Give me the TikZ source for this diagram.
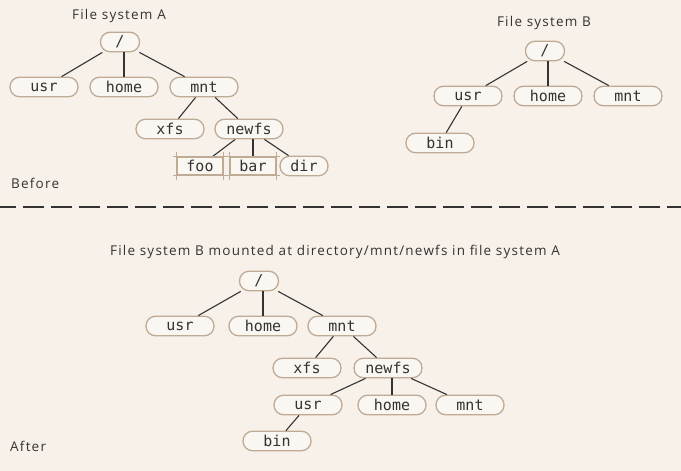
\documentclass[tikz,border=0pt]{standalone}
\usepackage{fontspec}
\setmainfont[LetterSpace=9]{Open Sans}
\newfontfamily\monofont{DejaVu Sans Mono}
\definecolor{bgc}{HTML}{F7F1EA}
\definecolor{nodeb}{HTML}{BFAA94}
\definecolor{nodef}{HTML}{FAF6F1}
\definecolor{inkc}{HTML}{333333}
\tikzset{
  fsnode/.style={draw=nodeb, fill=nodef, line width=1.3pt, rounded corners=9.5pt,
    minimum width=68pt, minimum height=19.5pt, inner sep=0pt,
    font=\monofont\fontsize{15}{16}\selectfont, text=inkc},
  rootnode/.style={fsnode, minimum width=39pt},
  smallnode/.style={fsnode, minimum width=48pt},
  filenode/.style={draw=nodeb, fill=nodef, line width=1.3pt, minimum width=46pt,
    minimum height=18pt, inner sep=0pt,
    font=\monofont\fontsize{15}{16}\selectfont, text=inkc},
  edge/.style={draw=inkc, line width=1.1pt},
  lbl/.style={font=\fontsize{13.5}{15}\selectfont, text=inkc, inner sep=0pt},
}
\begin{document}
\begin{tikzpicture}[x=1pt,y=-1pt]
\fill[bgc] (0,0) rectangle (681,471);
\useasboundingbox (0,0) rectangle (681,471);
% File system A
\node[lbl] (tA) at (119,16) {File system A};
\node[rootnode] (ar) at (120,42) {/};
\node[fsnode] (au) at (44,87) {usr};
\node[fsnode] (ah) at (124,87) {home};
\node[fsnode] (am) at (204,87) {mnt};
\node[fsnode] (ax) at (170,129) {xfs};
\node[fsnode] (an) at (249,129) {newfs};
\node[filenode] (af) at (200,166) {foo};
\node[filenode] (ab) at (253,166) {bar};
\node[smallnode] (ad) at (304,166) {dir};
\foreach \c in {au,am} \draw[edge] (ar) -- (\c);
\draw[edge] (ar.south -| ah) -- (ah.north);
\draw[edge] (am) -- (ax);
\draw[edge] (am) -- (an);
\draw[edge] (an) -- (af);
\draw[edge] (an.south -| ab) -- (ab.north);
\draw[edge] (an) -- (ad);
% sketchy corner extensions on file boxes
\foreach \b in {af,ab} {
  \draw[nodeb, line width=1pt] ([xshift=-3pt]\b.north west) -- ([xshift=3pt]\b.north east);
  \draw[nodeb, line width=1pt] ([xshift=-3pt]\b.south west) -- ([xshift=3pt]\b.south east);
  \draw[nodeb, line width=1pt] ([yshift=4pt]\b.north west) -- ([yshift=-4pt]\b.south west);
  \draw[nodeb, line width=1pt] ([yshift=4pt]\b.north east) -- ([yshift=-4pt]\b.south east);
}
\node[lbl, anchor=west] (before) at (11,183) {Before};
% File system B
\node[lbl] (tB) at (544,23) {File system B};
\node[rootnode] (br) at (545,51) {/};
\node[fsnode] (bu) at (468,96) {usr};
\node[fsnode] (bh) at (548,96) {home};
\node[fsnode] (bm) at (628,96) {mnt};
\node[fsnode] (bb) at (440,143) {bin};
\draw[edge] (br) -- (bu);
\draw[edge] (br.south -| bh) -- (bh.north);
\draw[edge] (br) -- (bm);
\draw[edge] (bu) -- (bb);
% divider
\coordinate (dl) at (0,207);
\coordinate (dr) at (681,207);
\draw[inkc, line width=1.5pt, dash pattern=on 21pt off 7pt, dash phase=5pt] (dl) -- (dr);
% After
\node[lbl] (tC) at (335,252) {File system B mounted at directory/mnt/newfs in file system A};
\node[rootnode] (cr) at (259,281) {/};
\node[fsnode] (cu) at (180,326) {usr};
\node[fsnode] (ch) at (263,326) {home};
\node[fsnode] (cm) at (342,326) {mnt};
\node[fsnode] (cx) at (307,368) {xfs};
\node[fsnode] (cn) at (388,368) {newfs};
\node[fsnode] (cu2) at (308,405) {usr};
\node[fsnode] (ch2) at (392,405) {home};
\node[fsnode] (cm2) at (470,405) {mnt};
\node[fsnode] (cb2) at (277,441) {bin};
\draw[edge] (cr) -- (cu);
\draw[edge] (cr.south -| ch) -- (ch.north);
\draw[edge] (cr) -- (cm);
\draw[edge] (cm) -- (cx);
\draw[edge] (cm) -- (cn);
\draw[edge] (cn) -- (cu2);
\draw[edge] (cn.south -| ch2) -- (ch2.north);
\draw[edge] (cn) -- (cm2);
\draw[edge] (cu2) -- (cb2);
\node[lbl, anchor=west] (after) at (10,446) {After};
\end{tikzpicture}
\end{document}
